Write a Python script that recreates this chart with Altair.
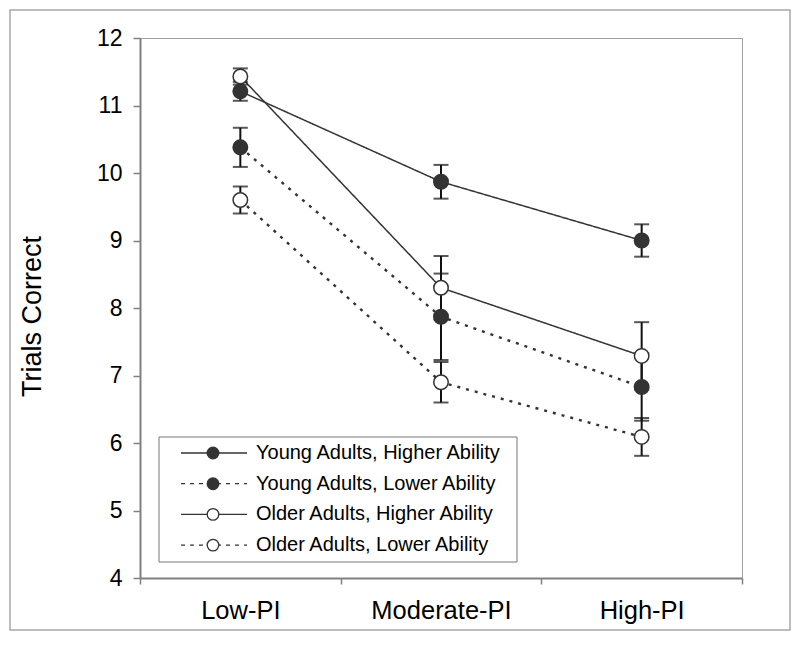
import altair as alt
import pandas as pd

# ---------------- data ----------------
conditions = ["Low-PI", "Moderate-PI", "High-PI"]
series_names = [
    "Young Adults, Higher Ability",
    "Young Adults, Lower Ability",
    "Older Adults, Higher Ability",
    "Older Adults, Lower Ability",
]
series_age = ["Young", "Young", "Older", "Older"]
series_ability = ["Higher", "Lower", "Higher", "Lower"]

young_higher = [11.21, 9.87, 9.00]
young_higher_err = [0.14, 0.25, 0.24]
young_lower = [10.38, 7.87, 6.83]
young_lower_err = [0.29, 0.64, 0.50]
older_higher = [11.43, 8.30, 7.29]
older_higher_err = [0.12, 0.47, 0.50]
older_lower = [9.60, 6.90, 6.09]
older_lower_err = [0.20, 0.30, 0.28]

y_ticks = [4, 5, 6, 7, 8, 9, 10, 11, 12]

means = [young_higher, young_lower, older_higher, older_lower]
errs = [young_higher_err, young_lower_err, older_higher_err, older_lower_err]

rows = []
for name, age, ab, m, e in zip(series_names, series_age, series_ability, means, errs):
    for c, mv, ev in zip(conditions, m, e):
        rows.append({"series": name, "age": age, "ability": ab, "condition": c,
                     "mean": mv, "lo": mv - ev, "hi": mv + ev})
df = pd.DataFrame(rows)

# ---------------- styling ----------------
FONT = "Liberation Sans"
DARK = "#333333"
W, H = 602, 540

x_enc = alt.X("condition:N", sort=conditions,
              scale=alt.Scale(domain=conditions, paddingInner=0, paddingOuter=0),
              axis=alt.Axis(title=None, tickBand="extent", labelAngle=0,
                            labelFontSize=25.5, labelPadding=14, tickSize=6,
                            labelColor="black"))

def y_enc(field):
    return alt.Y(f"{field}:Q",
                 scale=alt.Scale(domain=[4, 12], nice=False, zero=False),
                 axis=alt.Axis(values=y_ticks, title="Trials Correct", grid=False,
                               labelFontSize=23, labelPadding=11, tickSize=7,
                               labelColor="black", titleFontSize=27,
                               titleFontWeight="normal", titleColor="black",
                               titleX=-108, titleY=H / 2 + 8, titleAngle=270,
                               titleAlign="center", titleBaseline="middle"))

base = alt.Chart(df)

lines = base.mark_line(color=DARK).encode(
    x=x_enc, y=y_enc("mean"), detail="series:N",
    strokeDash=alt.StrokeDash("ability:N",
                              scale=alt.Scale(domain=["Higher", "Lower"], range=[[1, 0], [3, 6]]),
                              legend=None),
    strokeWidth=alt.StrokeWidth("ability:N",
                                scale=alt.Scale(domain=["Higher", "Lower"], range=[1.5, 2.4]),
                                legend=None),
)

err_rule = base.mark_rule(color="#111111", strokeWidth=2).encode(
    x=x_enc, y=y_enc("lo"), y2="hi:Q")
cap_lo = base.mark_tick(color="#111111", thickness=2, size=15).encode(x=x_enc, y=y_enc("lo"))
cap_hi = base.mark_tick(color="#111111", thickness=2, size=15).encode(x=x_enc, y=y_enc("hi"))

fill_scale = alt.Scale(domain=["Young", "Older"], range=[DARK, "white"])
markers = base.mark_point(shape="circle", size=210, filled=True, opacity=1,
                          stroke=DARK, strokeWidth=1.5).encode(
    x=x_enc, y=y_enc("mean"),
    fill=alt.Fill("age:N", scale=fill_scale, legend=None),
)

one = alt.Data(values=[{"k": 0}])

# outer frame of the figure
frame = alt.Chart(one).mark_rect(fill=None, stroke="#a8a8a8", strokeWidth=1.5).encode(
    x=alt.value(-130), x2=alt.value(650), y=alt.value(-28), y2=alt.value(592))

# legend
legend_layers = [
    alt.Chart(one).mark_rect(fill="white", stroke="#777777", strokeWidth=1).encode(
        x=alt.value(19), x2=alt.value(377), y=alt.value(399), y2=alt.value(524))
]
for i, (name, age, ab) in enumerate(zip(series_names, series_age, series_ability)):
    yy = 415 + i * 30.7
    dash = [1, 0] if ab == "Higher" else [4, 5]
    legend_layers.append(
        alt.Chart(one).mark_rule(color=DARK, strokeWidth=1.3, strokeDash=dash).encode(
            x=alt.value(41), x2=alt.value(107), y=alt.value(yy)))
    legend_layers.append(
        alt.Chart(one).mark_point(shape="circle", size=135, filled=True, opacity=1,
                                  fill=DARK if age == "Young" else "white",
                                  stroke=DARK, strokeWidth=1.3).encode(
            x=alt.value(73), y=alt.value(yy)))
    legend_layers.append(
        alt.Chart(one).mark_text(align="left", baseline="middle", fontSize=20,
                                 font=FONT, color="black").encode(
            x=alt.value(116), y=alt.value(yy), text=alt.value(name)))

chart = alt.layer(frame, lines, err_rule, cap_lo, cap_hi, markers, *legend_layers).properties(
    width=W, height=H,
    autosize="none",
    padding={"left": 132, "top": 30, "right": 50, "bottom": 62},
    background="white",
).configure_view(
    stroke="#a0a0a0", strokeWidth=1
).configure_axis(
    labelFont=FONT, titleFont=FONT, domainColor="#808080", domainWidth=2,
    tickColor="#808080", tickWidth=1.5,
)

chart.save("out.html", embed_options={"renderer": "svg", "actions": False})
